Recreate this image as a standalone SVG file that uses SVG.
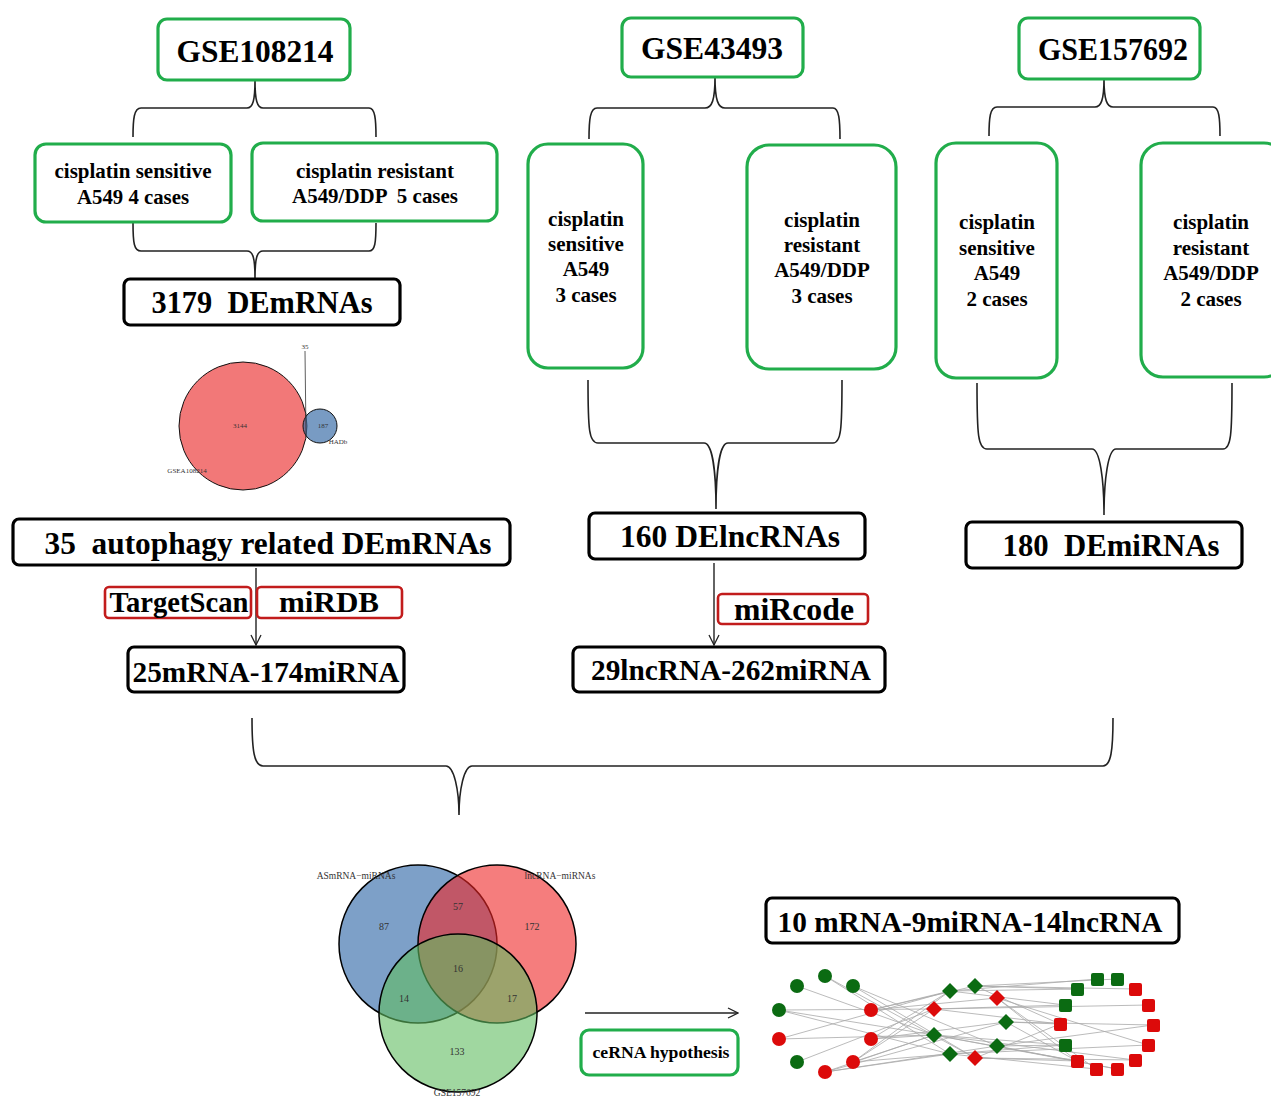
<svg xmlns="http://www.w3.org/2000/svg" width="1271" height="1096" viewBox="0 0 1271 1096">
<style>
.g{fill:#fff;stroke:#21ad4b;stroke-width:3.2}
.k{fill:#fff;stroke:#000;stroke-width:3.2}
.r{fill:#fff;stroke:#c21c1c;stroke-width:2.6}
.t{font-family:"Liberation Serif","Times New Roman",serif;font-weight:bold;fill:#000;text-anchor:middle;white-space:pre}
.s{font-size:21px}
.b{font-size:31px}
.v{font-family:"Liberation Serif","Times New Roman",serif;fill:#333;text-anchor:middle}
.br{fill:none;stroke:#222;stroke-width:1.6}
.ar{fill:none;stroke:#222;stroke-width:1.4}
.e{fill:none;stroke:#a9a9a9;stroke-width:0.8}
.ng{fill:#0b6b12}
.nr{fill:#dc0a0a}
</style>
<defs>
<marker id="open" viewBox="0 0 12 12" refX="11" refY="6" markerWidth="12" markerHeight="12" markerUnits="userSpaceOnUse" orient="auto">
<path d="M1,1 L11,6 L1,11" fill="none" stroke="#222" stroke-width="1.3"/>
</marker>
</defs>

<g id="connectors">
<path class="br" d="M133,137 C133,119 134,108 141,108 L247,108 C253,108 255,100 255,80 C255,100 257,108 263,108 L369,108 C375,108 376,119 376,137"/>
<path class="br" d="M133,223 C133,243 134,251 141,251 L247,251 C253,251 255,258 255,278 C255,258 257,251 263,251 L369,251 C375,251 376,243 376,223"/>
<path class="br" d="M589,139 C589,120 590,108 597,108 L705,108 C712,108 715,100 715,77 C715,100 718,108 725,108 L833,108 C839,108 840,120 840,139"/>
<path class="br" d="M989,136 C989,118 990,107 997,107 L1095,107 C1101,107 1104,100 1104,79 C1104,100 1107,107 1113,107 L1213,107 C1219,107 1220,118 1220,136"/>
<path class="br" d="M588,380 C588,430 589,443 598,443 L704,443 C712,443 716,470 716,509 C716,470 720,443 728,443 L833,443 C841,443 842,430 842,380"/>
<path class="br" d="M977,383 C977,435 978,449 987,449 L1092,449 C1100,449 1104,480 1104,515 C1104,480 1108,449 1116,449 L1223,449 C1231,449 1232,435 1232,383"/>
<path class="br" d="M252,718 C252,750 254,766 263,766 L446,766 C454,766 459,790 459,815 C459,790 464,766 472,766 L1103,766 C1111,766 1113,750 1113,718"/>
<line class="ar" x1="256" y1="568" x2="256" y2="645" marker-end="url(#open)"/>
<line class="ar" x1="714" y1="563" x2="714" y2="645" marker-end="url(#open)"/>
<line class="ar" x1="585" y1="1013" x2="738" y2="1013" marker-end="url(#open)"/>
</g>

<g id="gse108214"><rect class="g" x="158" y="19" width="192" height="61" rx="9"/><text class="t" x="255" y="62" font-size="32" textLength="157" lengthAdjust="spacingAndGlyphs">GSE108214</text></g>
<g id="sens1"><rect class="g" x="35" y="144" width="196" height="78" rx="11"/><text class="t s" x="133" y="178" textLength="157" lengthAdjust="spacingAndGlyphs">cisplatin sensitive</text><text class="t s" x="133" y="204" textLength="112" lengthAdjust="spacingAndGlyphs">A549 4 cases</text></g>
<g id="res1"><rect class="g" x="252" y="143" width="245" height="78" rx="11"/><text class="t s" x="375" y="178" textLength="158" lengthAdjust="spacingAndGlyphs">cisplatin resistant</text><text class="t s" x="375" y="203" textLength="166" lengthAdjust="spacingAndGlyphs">A549/DDP  5 cases</text></g>
<g id="demrna"><rect class="k" x="124" y="279" width="276" height="46" rx="6"/><text class="t b" x="262" y="313" textLength="221" lengthAdjust="spacingAndGlyphs">3179  DEmRNAs</text></g>

<g id="venn1">
<circle cx="243" cy="426" r="64" fill="#f27878" stroke="#111" stroke-width="1"/>
<circle cx="320" cy="426" r="17" fill="rgb(62,112,169)" fill-opacity="0.7" stroke="#111" stroke-width="1"/>
<line x1="305" y1="351" x2="306" y2="436" stroke="#333" stroke-width="0.8"/>
<text class="v" x="305" y="349" font-size="7">35</text>
<text class="v" x="240" y="428" font-size="7">3144</text>
<text class="v" x="323" y="428" font-size="7">187</text>
<text class="v" x="338" y="444" font-size="7">HADb</text>
<text class="v" x="187" y="473" font-size="7">GSEA108214</text>
</g>

<g id="auto"><rect class="k" x="13" y="519" width="497" height="46" rx="6"/><text class="t b" x="268" y="554" textLength="447" lengthAdjust="spacingAndGlyphs">35  autophagy related DEmRNAs</text></g>
<g id="targetscan"><rect class="r" x="105" y="587" width="146" height="31" rx="4"/><text class="t" x="179" y="612" font-size="29" textLength="139" lengthAdjust="spacingAndGlyphs">TargetScan</text></g>
<g id="mirdb"><rect class="r" x="257" y="587" width="145" height="31" rx="4"/><text class="t" x="329" y="612" font-size="30" textLength="100" lengthAdjust="spacingAndGlyphs">miRDB</text></g>
<g id="m25"><rect class="k" x="128" y="647" width="276" height="45" rx="6"/><text class="t" x="266" y="682" font-size="30" textLength="267" lengthAdjust="spacingAndGlyphs">25mRNA-174miRNA</text></g>

<g id="gse43493"><rect class="g" x="622" y="18" width="181" height="59" rx="9"/><text class="t" x="712" y="59" font-size="32" textLength="142" lengthAdjust="spacingAndGlyphs">GSE43493</text></g>
<g id="sens2"><rect class="g" x="528" y="144" width="115" height="224" rx="20"/>
<text class="t s" x="586" y="226">cisplatin</text><text class="t s" x="586" y="251">sensitive</text><text class="t s" x="586" y="276">A549</text><text class="t s" x="586" y="302">3 cases</text></g>
<g id="res2"><rect class="g" x="747" y="145" width="149" height="224" rx="22"/>
<text class="t s" x="822" y="227">cisplatin</text><text class="t s" x="822" y="252">resistant</text><text class="t s" x="822" y="277">A549/DDP</text><text class="t s" x="822" y="303">3 cases</text></g>
<g id="delnc"><rect class="k" x="589" y="513" width="276" height="46" rx="6"/><text class="t" x="730" y="547" font-size="31" textLength="220" lengthAdjust="spacingAndGlyphs">160 DElncRNAs</text></g>
<g id="mircode"><rect class="r" x="718" y="594" width="150" height="30" rx="4"/><text class="t" x="794" y="620" font-size="31" textLength="120" lengthAdjust="spacingAndGlyphs">miRcode</text></g>
<g id="l29"><rect class="k" x="573" y="647" width="312" height="45" rx="6"/><text class="t" x="731" y="680" font-size="30" textLength="280" lengthAdjust="spacingAndGlyphs">29lncRNA-262miRNA</text></g>

<g id="gse157692"><rect class="g" x="1019" y="18" width="181" height="61" rx="9"/><text class="t" x="1113" y="60" font-size="32" textLength="150" lengthAdjust="spacingAndGlyphs">GSE157692</text></g>
<g id="sens3"><rect class="g" x="936" y="143" width="121" height="235" rx="20"/>
<text class="t s" x="997" y="229">cisplatin</text><text class="t s" x="997" y="255">sensitive</text><text class="t s" x="997" y="280">A549</text><text class="t s" x="997" y="306">2 cases</text></g>
<g id="res3"><rect class="g" x="1141" y="143" width="145" height="234" rx="22"/>
<text class="t s" x="1211" y="229">cisplatin</text><text class="t s" x="1211" y="255">resistant</text><text class="t s" x="1211" y="280">A549/DDP</text><text class="t s" x="1211" y="306">2 cases</text></g>
<g id="demirna"><rect class="k" x="966" y="522" width="276" height="46" rx="6"/><text class="t" x="1111" y="556" font-size="31" textLength="217" lengthAdjust="spacingAndGlyphs">180  DEmiRNAs</text></g>

<g id="venn2">
<circle cx="418" cy="944" r="79" fill="rgb(38,97,163)" fill-opacity="0.6" stroke="#000" stroke-width="1.5"/>
<circle cx="497" cy="944" r="79" fill="rgb(238,38,38)" fill-opacity="0.6" stroke="#000" stroke-width="1.5"/>
<circle cx="458" cy="1013" r="79" fill="rgb(97,188,97)" fill-opacity="0.6" stroke="#000" stroke-width="1.5"/>
<text class="v" x="356" y="879" font-size="9.5">ASmRNA−miRNAs</text>
<text class="v" x="560" y="879" font-size="9.5">lncRNA−miRNAs</text>
<text class="v" x="457" y="1096" font-size="9.5">GSE157692</text>
<text class="v" x="384" y="930" font-size="10">87</text>
<text class="v" x="458" y="910" font-size="10">57</text>
<text class="v" x="532" y="930" font-size="10">172</text>
<text class="v" x="458" y="972" font-size="10">16</text>
<text class="v" x="404" y="1002" font-size="10">14</text>
<text class="v" x="512" y="1002" font-size="10">17</text>
<text class="v" x="457" y="1055" font-size="10">133</text>
</g>

<g id="cerna"><rect class="g" x="581" y="1030" width="157" height="45" rx="8"/><text class="t" x="661" y="1058" font-size="17.5" textLength="137" lengthAdjust="spacingAndGlyphs">ceRNA hypothesis</text></g>
<g id="final"><rect class="k" x="766" y="898" width="413" height="45" rx="6"/><text class="t" x="970" y="932" font-size="30" textLength="385" lengthAdjust="spacingAndGlyphs">10 mRNA-9miRNA-14lncRNA</text></g>

<g id="network">
<path class="e" d="M797,986L934,1035 M825,976L950,1054 M825,976L975,1058 M853,986L997,1046 M853,986L975,1058 M779,1010L934,1009 M779,1010L950,1054 M779,1010L934,1035 M779,1039L950,991 M779,1039L934,1035 M797,1062L934,1009 M871,1010L950,991 M871,1010L975,986 M871,1010L997,998 M871,1039L950,991 M871,1039L934,1035 M871,1039L1006,1022 M853,1062L950,991 M853,1062L934,1009 M853,1062L934,1035 M853,1062L950,1054 M825,1072L934,1035 M825,1072L950,1054 M825,1072L1006,1022 M825,1072L997,1046
M950,991L1065,1005 M950,991L1077,989 M950,991L1097,979 M975,986L1077,989 M975,986L1135,989 M975,986L1060,1024 M975,986L1117,979 M934,1009L1065,1005 M934,1009L1148,1005 M934,1009L1060,1024 M997,998L1148,1045 M997,998L1077,1061 M997,998L1096,1069 M1006,1022L1060,1024 M1006,1022L1153,1025 M1006,1022L1077,1061 M934,1035L1065,1045 M934,1035L1135,1060 M934,1035L1077,1061 M934,1035L1117,1069 M950,1054L1065,1045 M950,1054L1148,1045 M950,1054L1096,1069 M997,1046L1065,1045 M997,1046L1153,1025 M997,1046L1117,1069 M975,1058L1077,1061 M975,1058L1135,1060 M975,1058L1060,1024"/>
<circle class="ng" cx="797" cy="986" r="7"/><circle class="ng" cx="825" cy="976" r="7"/><circle class="ng" cx="853" cy="986" r="7"/><circle class="ng" cx="779" cy="1010" r="7"/><circle class="ng" cx="797" cy="1062" r="7"/>
<circle class="nr" cx="779" cy="1039" r="7"/><circle class="nr" cx="871" cy="1010" r="7"/><circle class="nr" cx="871" cy="1039" r="7"/><circle class="nr" cx="853" cy="1062" r="7"/><circle class="nr" cx="825" cy="1072" r="7"/>
<path class="ng" d="M950,983l8,8l-8,8l-8,-8z M934,1027l8,8l-8,8l-8,-8z M950,1046l8,8l-8,8l-8,-8z M975,978l8,8l-8,8l-8,-8z M1006,1014l8,8l-8,8l-8,-8z M997,1038l8,8l-8,8l-8,-8z"/>
<path class="nr" d="M934,1001l8,8l-8,8l-8,-8z M997,990l8,8l-8,8l-8,-8z M975,1050l8,8l-8,8l-8,-8z"/>
<g class="ng"><rect x="1071" y="983" width="13" height="13" rx="2"/><rect x="1091" y="973" width="13" height="13" rx="2"/><rect x="1111" y="973" width="13" height="13" rx="2"/><rect x="1059" y="999" width="13" height="13" rx="2"/><rect x="1059" y="1039" width="13" height="13" rx="2"/></g>
<g class="nr"><rect x="1129" y="983" width="13" height="13" rx="2"/><rect x="1142" y="999" width="13" height="13" rx="2"/><rect x="1147" y="1019" width="13" height="13" rx="2"/><rect x="1142" y="1039" width="13" height="13" rx="2"/><rect x="1129" y="1054" width="13" height="13" rx="2"/><rect x="1111" y="1063" width="13" height="13" rx="2"/><rect x="1090" y="1063" width="13" height="13" rx="2"/><rect x="1071" y="1055" width="13" height="13" rx="2"/><rect x="1054" y="1018" width="13" height="13" rx="2"/></g>
</g>
</svg>
